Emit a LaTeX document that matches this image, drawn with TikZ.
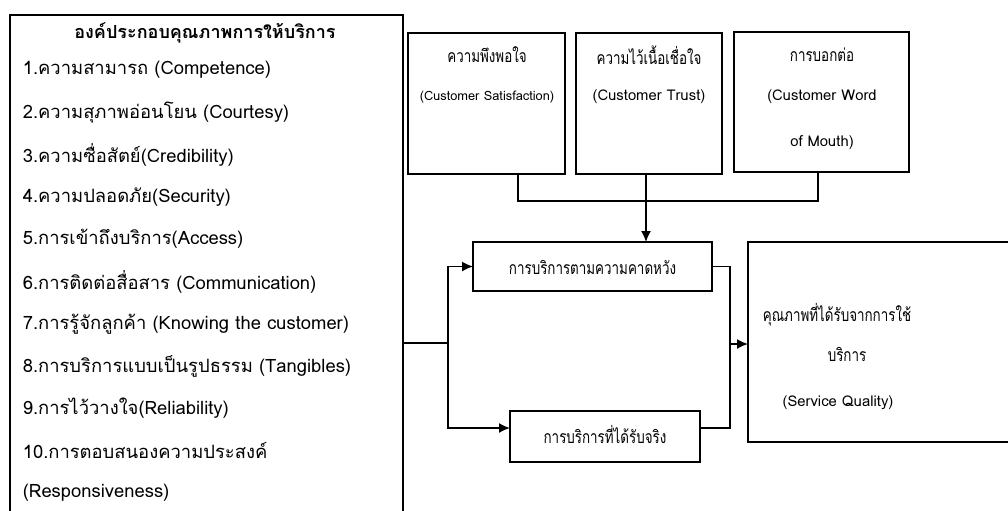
\documentclass[tikz,border=0pt]{standalone}
\usepackage{fontspec}
\setmainfont[Script=Thai]{Loma}
\newfontfamily\thaibox[Script=Thai,FakeStretch=0.76]{Loma}
\usetikzlibrary{arrows.meta}

\tikzset{
  box/.style={draw, line width=0.8pt, inner sep=0pt, outer sep=0pt},
  txt/.style={inner sep=0pt, font=\fontsize{9.2}{11}\selectfont},
  thtxt/.style={inner sep=0pt, font=\thaibox\fontsize{8.8}{10}\selectfont},
  entxt/.style={inner sep=0pt, font=\fontsize{7.4}{9}\selectfont},
  arr/.style={-{Latex[length=5.5pt,width=5pt]}}
}

\begin{document}
\begin{tikzpicture}[x=0.5pt,y=-0.5pt,line width=0.8pt]
\useasboundingbox (0,0) rectangle (1008,510);

% Left box (service quality dimensions)
\node[box, minimum width=196.5pt, minimum height=272.5pt] (factors) at (206.5,287.5) {};
\node[txt, font=\fontsize{9}{11}\selectfont\bfseries] (title) at (205,33) {องค์ประกอบคุณภาพการให้บริการ};
\foreach \i/\t in {1/{1.ความสามารถ (Competence)},
                   2/{2.ความสุภาพอ่อนโยน (Courtesy)},
                   3/{3.ความซื่อสัตย์(Credibility)},
                   4/{4.ความปลอดภัย(Security)},
                   5/{5.การเข้าถึงบริการ(Access)},
                   6/{6.การติดต่อสื่อสาร (Communication)},
                   7/{7.การรู้จักลูกค้า (Knowing the customer)},
                   8/{8.การบริการแบบเป็นรูปธรรม (Tangibles)},
                   9/{9.การไว้วางใจ(Reliability)},
                   10/{10.การตอบสนองความประสงค์},
                   11/{(Responsiveness)}}
  \node[txt, anchor=west] (item\i) at (22,{70+42.3*(\i-1)}) {\t};

% Top boxes
\node[box, minimum width=78.5pt, minimum height=70.5pt] (sat) at (486.5,103.5) {};
\node[thtxt] (sat-a) at (487,55) {ความพึงพอใจ};
\node[entxt, font=\fontsize{6.4}{8}\selectfont] (sat-b) at (487,97) {(Customer Satisfaction)};

\node[box, minimum width=73pt, minimum height=70.5pt] (trust) at (649,103.5) {};
\node[thtxt] (trust-a) at (649,55) {ความไว้เนื้อเชื่อใจ};
\node[entxt] (trust-b) at (649,97) {(Customer Trust)};

\node[box, minimum width=87.5pt, minimum height=70pt] (word) at (821.5,102) {};
\node[thtxt] (word-a) at (822,55) {การบอกต่อ};
\node[entxt] (word-b) at (822,97) {(Customer Word};
\node[entxt] (word-c) at (822,143) {of Mouth)};

% Middle boxes
\node[box, minimum width=119.5pt, minimum height=24.5pt] (expect) at (592.5,266.5) {};
\node[thtxt] (expect-a) at (592.5,267) {การบริการตามความคาดหวัง};

\node[box, minimum width=95pt, minimum height=25.5pt] (actual) at (605,436.5) {};
\node[thtxt] (actual-a) at (605,434) {การบริการที่ได้รับจริง};

% Right box
\node[box, minimum width=141pt, minimum height=100pt] (quality) at (889,342) {};
\node[thtxt] (quality-a) at (837,315) {คุณภาพที่ได้รับจากการใช้};
\node[thtxt] (quality-b) at (847,354) {บริการ};
\node[entxt] (quality-c) at (838,403) {(Service Quality)};

% Top connectors
\coordinate (j1) at (518,201);
\coordinate (jm) at (646,201);
\coordinate (j3) at (818,201);
\draw (sat.south -| j1) -- (j1) -- (j3) -- (word.south -| j3);
\draw (trust.south -| jm) -- (jm);
\draw[arr] (jm) -- (expect.north -| jm);

% Split from left box
\coordinate (split) at (448,343);
\draw (factors.east |- split) -- (split);
\draw[arr] (split) |- (expect.west);
\draw[arr] (split) |- ([yshift=4.25pt]actual.west);

% Merge into quality
\coordinate (merge) at (730,344);
\draw (expect.east) -| ([yshift=4.25pt]actual.east -| merge) -- ([yshift=4.25pt]actual.east);
\draw[arr] (merge) -- (quality.west |- merge);

\end{tikzpicture}
\end{document}
